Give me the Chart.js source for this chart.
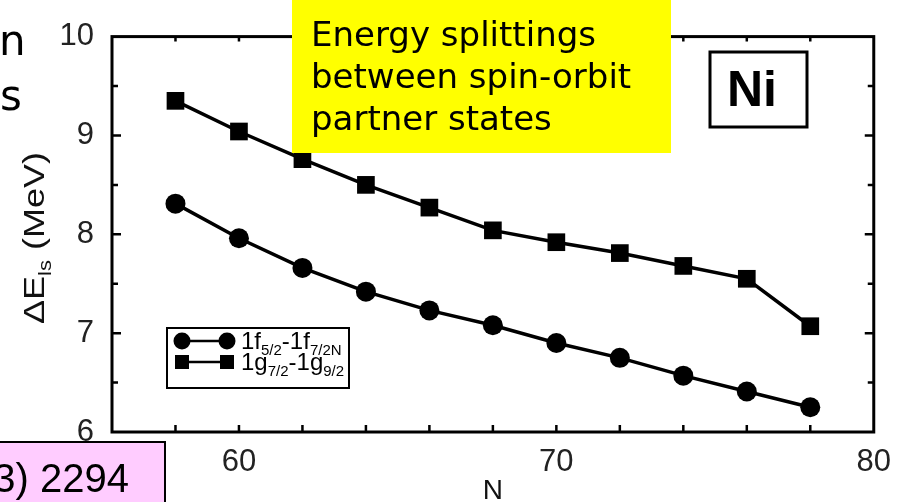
<!DOCTYPE html>
<html>
<head>
<meta charset="utf-8">
<title>Ni spin-orbit splittings</title>
<script src="https://cdn.jsdelivr.net/npm/chart.js@4.4.1/dist/chart.umd.min.js"></script>
<style>
  html, body { margin: 0; padding: 0; background: #fff; }
  canvas { display: block; }
</style>
</head>
<body>
<canvas id="chart" width="903" height="502"></canvas>
<script>
'use strict';

// neutron number N and the spin-orbit energy splitting (MeV) of each partner pair
const neutronNumbers = [58, 60, 62, 64, 66, 68, 70, 72, 74, 76, 78];
const splitF = [8.31, 7.96, 7.66, 7.42, 7.23, 7.08, 6.90, 6.75, 6.57, 6.41, 6.25];
const splitG = [9.35, 9.04, 8.76, 8.50, 8.27, 8.04, 7.92, 7.81, 7.68, 7.55, 7.07];

const xTickLabels = [60, 70, 80];
const yTickLabels = [6, 7, 8, 9, 10];

// legend text: [main, subscript, main, subscript]
const legendF = ['1f', '5/2', '-1f', '7/2N'];
const legendG = ['1g', '7/2', '-1g', '9/2'];

const noteLines = ['Energy splittings', 'between spin-orbit', 'partner states'];

const SANS = '"Liberation Sans", Arial, sans-serif';
const NOTE_FONT = '"DejaVu Sans", sans-serif';

let canvasElem = document.getElementById('chart');

function toPoints(ys) {
  return neutronNumbers.map((n, i) => ({x: n, y: ys[i]}));
}

// write a run of text with alternating normal / subscript pieces
function drawSubText(ctx, parts, x, y, size, subSize, subDrop) {
  let cx = x;
  parts.forEach((p, i) => {
    const sub = i % 2 === 1;
    ctx.font = (sub ? subSize : size) + 'px ' + SANS;
    ctx.fillText(p, cx, sub ? y + subDrop : y);
    cx += ctx.measureText(p).width;
  });
  return cx;
}

function measureSubText(ctx, parts, size, subSize) {
  let w = 0;
  parts.forEach((p, i) => {
    ctx.font = (i % 2 === 1 ? subSize : size) + 'px ' + SANS;
    w += ctx.measureText(p).width;
  });
  return w;
}

function drawMarker(ctx, style, x, y, r) {
  ctx.beginPath();
  if (style === 'rect') {
    ctx.rect(x - r, y - r, 2 * r, 2 * r);
  } else {
    ctx.arc(x, y, r, 0, Math.PI * 2);
  }
  ctx.fill();
}

// box frame with inward ticks on all four sides
const frameTicks = {
  id: 'frameTicks',
  afterDatasetsDraw(chart) {
    const {ctx, chartArea: a, scales: {x, y}} = chart;
    ctx.save();
    ctx.strokeStyle = '#000';
    ctx.lineWidth = 2.5;
    ctx.beginPath();
    x.ticks.forEach(t => {
      if (t.value <= x.min || t.value >= x.max) return;
      const px = x.getPixelForValue(t.value);
      ctx.moveTo(px, a.bottom);
      ctx.lineTo(px, a.bottom - 7);
      ctx.moveTo(px, a.top);
      ctx.lineTo(px, a.top + 5);
    });
    y.ticks.forEach(t => {
      if (t.value <= y.min || t.value >= y.max) return;
      const py = y.getPixelForValue(t.value);
      const len = Number.isInteger(t.value) ? 9 : 6;
      ctx.moveTo(a.left, py);
      ctx.lineTo(a.left + len, py);
      ctx.moveTo(a.right, py);
      ctx.lineTo(a.right - len, py);
    });
    ctx.stroke();
    ctx.lineWidth = 3;
    ctx.strokeRect(a.left, a.top, a.right - a.left, a.bottom - a.top);
    ctx.restore();
  }
};

const extras = {
  id: 'extras',
  afterDraw(chart) {
    const ctx = chart.ctx;
    const sets = chart.data.datasets;
    ctx.save();

    // legend
    const lg = {x: 167, y: 328, w: 182, h: 60};
    ctx.fillStyle = '#fff';
    ctx.fillRect(lg.x, lg.y, lg.w, lg.h);
    ctx.strokeStyle = '#000';
    ctx.lineWidth = 2;
    ctx.strokeRect(lg.x, lg.y, lg.w, lg.h);
    [[sets[0], legendF, 341, 8.5], [sets[1], legendG, 362, 7]].forEach(([ds, parts, ly, r]) => {
      ctx.strokeStyle = ds.borderColor;
      ctx.lineWidth = 2.5;
      ctx.beginPath();
      ctx.moveTo(182, ly);
      ctx.lineTo(227, ly);
      ctx.stroke();
      ctx.fillStyle = ds.pointBackgroundColor;
      drawMarker(ctx, ds.pointStyle, 182, ly, r);
      drawMarker(ctx, ds.pointStyle, 227, ly, r);
      ctx.fillStyle = '#000';
      ctx.textBaseline = 'alphabetic';
      ctx.textAlign = 'left';
      drawSubText(ctx, parts, 241, ly + 8, 24, 15, 6);
    });

    // y axis title
    ctx.save();
    ctx.translate(44, 238);
    ctx.rotate(-Math.PI / 2);
    ctx.scale(1, 0.82);
    const title = ['\u0394E', 'ls', ' (MeV)'];
    const tw = measureSubText(ctx, title, 36, 22);
    ctx.fillStyle = '#111';
    drawSubText(ctx, title, -tw / 2, 0, 36, 22, 8);
    ctx.restore();

    // element tag
    ctx.fillStyle = '#fff';
    ctx.fillRect(710, 52, 97, 75);
    ctx.strokeStyle = '#000';
    ctx.lineWidth = 3;
    ctx.strokeRect(710, 52, 97, 75);
    ctx.fillStyle = '#000';
    ctx.font = 'bold 50px ' + SANS;
    ctx.textAlign = 'center';
    ctx.fillText('Ni', 752, 106);

    // yellow note
    ctx.fillStyle = '#ffff00';
    ctx.fillRect(292, 0, 379, 153);
    ctx.fillStyle = '#000';
    ctx.textAlign = 'left';
    ctx.font = '34px ' + NOTE_FONT;
    noteLines.forEach((line, i) => ctx.fillText(line, 311, 46 + i * 42));

    // pieces of the surrounding slide
    ctx.font = '42px ' + NOTE_FONT;
    ctx.fillText('n', -1, 55);
    ctx.fillText('s', 0, 110);

    ctx.fillStyle = '#ffccff';
    ctx.fillRect(-5, 442, 170, 66);
    ctx.strokeStyle = '#000';
    ctx.lineWidth = 2;
    ctx.strokeRect(-5, 442, 170, 66);
    ctx.fillStyle = '#000';
    ctx.font = '40px ' + SANS;
    ctx.textAlign = 'right';
    ctx.fillText('3) 2294', 129, 492);

    ctx.restore();
  }
};

function renderChart() {
  const config = {
    type: 'line',
    data: {
      datasets: [
        {
          label: '1f5/2-1f7/2N',
          data: toPoints(splitF),
          borderColor: '#000',
          borderWidth: 3.5,
          pointStyle: 'circle',
          pointRadius: 10,
          pointBackgroundColor: '#000',
          pointBorderColor: '#000',
          pointBorderWidth: 0,
          fill: false,
          tension: 0,
          clip: false
        },
        {
          label: '1g7/2-1g9/2',
          data: toPoints(splitG),
          borderColor: '#000',
          borderWidth: 3.5,
          pointStyle: 'rect',
          pointRadius: 12.5,
          pointBackgroundColor: '#000',
          pointBorderColor: '#000',
          pointBorderWidth: 0,
          fill: false,
          tension: 0,
          clip: false
        }
      ]
    },
    options: {
      responsive: false,
      animation: false,
      devicePixelRatio: 1,
      layout: {padding: {top: 25, right: 20, left: 0, bottom: 0}},
      plugins: {
        legend: {display: false},
        tooltip: {enabled: false}
      },
      scales: {
        x: {
          type: 'linear',
          min: 56,
          max: 80,
          grid: {display: false, drawTicks: false},
          border: {display: false},
          afterFit(scale) { scale.height = 70; },
          ticks: {
            stepSize: 2,
            autoSkip: false,
            maxRotation: 0,
            padding: 12,
            color: '#222',
            font: {family: SANS, size: 31},
            callback: v => xTickLabels.includes(v) ? String(v) : ''
          },
          title: {
            display: true,
            text: 'N',
            color: '#111',
            font: {family: SANS, size: 28, lineHeight: 1},
            padding: {top: 0, bottom: -3}
          }
        },
        y: {
          min: 6,
          max: 10,
          grid: {display: false, drawTicks: false},
          border: {display: false},
          afterFit(scale) { scale.width = 112; },
          ticks: {
            stepSize: 0.5,
            autoSkip: false,
            padding: 18,
            color: '#222',
            font: {family: SANS, size: 31},
            callback: v => yTickLabels.includes(v) ? String(v) : ''
          }
        }
      }
    },
    plugins: [frameTicks, extras]
  };
  new Chart(canvasElem, config);
}

renderChart();
</script>
</body>
</html>
